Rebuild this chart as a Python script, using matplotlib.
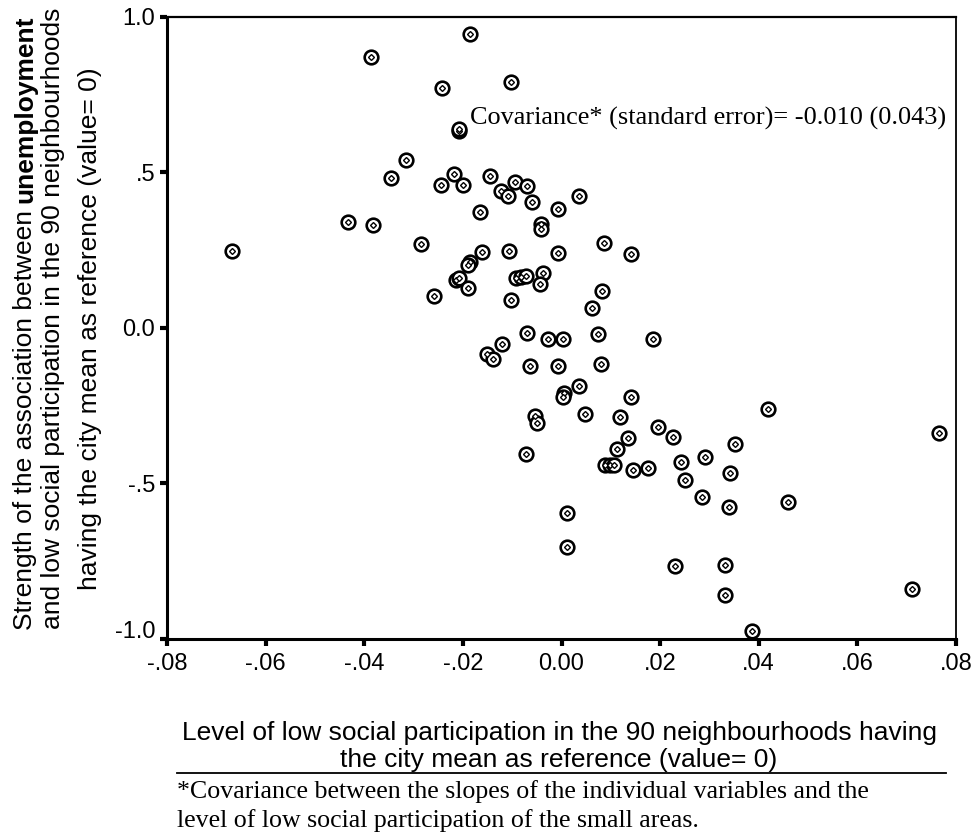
import matplotlib
matplotlib.use("Agg")
import matplotlib.pyplot as plt
import matplotlib.transforms as mtransforms

# ---- data ----
level = [-0.0668, -0.0386, -0.0185, -0.0242, -0.0102, -0.0207, -0.0207, -0.0315, -0.0345, -0.0244,
         -0.0217, -0.0199, -0.0146, -0.0122, -0.0108, -0.0095, -0.0069, -0.0059, -0.0166, -0.0041,
         -0.0041, -0.0432, -0.0382, -0.0284, -0.0162, -0.0185, -0.0189, -0.0213, -0.0207, -0.0189,
         -0.0106, -0.0093, -0.0083, -0.0073, -0.0037, -0.0043, -0.0258, -0.0102, -0.0008, -0.0008,
         0.0035, 0.0087, 0.0140, 0.0083, 0.0061, -0.0069, -0.0028, 0.0004, 0.0075, -0.0120,
         -0.0152, -0.0138, -0.0063, -0.0008, 0.0081, 0.0035, 0.0006, 0.0004, -0.0053, -0.0049,
         0.0047, 0.0140, 0.0118, 0.0134, 0.0112, -0.0071, 0.0089, 0.0099, 0.0106, 0.0144,
         0.0185, 0.0195, 0.0227, 0.0351, 0.0418, 0.0765, 0.0175, 0.0242, 0.0290, 0.0341,
         0.0250, 0.0284, 0.0339, 0.0459, 0.0012, 0.0012, 0.0231, 0.0331, 0.0331, 0.0711,
         0.0386]
strength = [0.248, 0.871, 0.945, 0.771, 0.790, 0.634, 0.640, 0.539, 0.481, 0.461,
            0.494, 0.461, 0.490, 0.439, 0.423, 0.468, 0.455, 0.406, 0.374, 0.335,
            0.319, 0.341, 0.330, 0.271, 0.245, 0.213, 0.203, 0.155, 0.162, 0.129,
            0.248, 0.161, 0.165, 0.168, 0.177, 0.142, 0.103, 0.090, 0.384, 0.242,
            0.423, 0.274, 0.239, 0.119, 0.064, -0.016, -0.035, -0.035, -0.019, -0.052,
            -0.084, -0.100, -0.122, -0.122, -0.116, -0.187, -0.210, -0.223, -0.284, -0.306,
            -0.277, -0.223, -0.287, -0.355, -0.390, -0.406, -0.442, -0.442, -0.442, -0.458,
            -0.035, -0.319, -0.352, -0.374, -0.261, -0.339, -0.449, -0.432, -0.416, -0.465,
            -0.490, -0.545, -0.574, -0.561, -0.594, -0.703, -0.765, -0.761, -0.858, -0.839,
            -0.974]

x_ticks = [-0.08, -0.06, -0.04, -0.02, 0.0, 0.02, 0.04, 0.06, 0.08]
x_tick_labels = ["-.08", "-.06", "-.04", "-.02", "0.00", ".02", ".04", ".06", ".08"]
y_ticks = [1.0, 0.5, 0.0, -0.5, -1.0]
y_tick_labels = ["1.0", ".5", "0.0", "-.5", "-1.0"]

annotation = "Covariance* (standard error)= -0.010 (0.043)"
xlabel_lines = ["Level of low social participation in the 90 neighbourhoods having",
                "the city mean as reference (value= 0)"]
ylabel_line1_a = "Strength of the association between"
ylabel_line1_b = "unemployment"
ylabel_line2 = "and low social participation in the 90 neighbourhoods"
ylabel_line3 = "having the city mean as reference (value= 0)"
footnote_lines = ["*Covariance between the slopes of the individual variables and the",
                  "level of low social participation of the small areas."]

SANS = "Liberation Sans"
SERIF = "Liberation Serif"

# ---- figure ----
W, H = 976, 838
fig = plt.figure(figsize=(W / 100, H / 100), dpi=100)
ax = fig.add_axes([167 / W, 1 - 639 / H, (956 - 167) / W, (639 - 17) / H])

ax.plot(level, strength, linestyle="none", marker="o", ms=9.8, mfc="white",
        mec="black", mew=1.9, zorder=3)
ax.plot(level, strength, linestyle="none", marker="D", ms=3.0, mfc="white",
        mec="black", mew=1.0, zorder=4)

ax.set_xlim(-0.08, 0.08)
ax.set_ylim(-1.0, 1.0)
ax.set_xticks(x_ticks)
ax.set_xticklabels(x_tick_labels, family=SANS, fontsize=17)
ax.set_yticks(y_ticks)
ax.set_yticklabels(y_tick_labels, family=SANS, fontsize=17)
ax.tick_params(direction="out", length=5, width=3, colors="black")
ax.tick_params(axis="x", pad=5)
ax.tick_params(axis="y", pad=3.5)
for side, lw in (("left", 2.2), ("bottom", 2.2), ("top", 1.6), ("right", 1.3)):
    ax.spines[side].set_linewidth(lw)

# the lowest y tick label sits a little above its tick in the reference
lowest = ax.get_yticklabels()[-1]
lowest.set_transform(lowest.get_transform() +
                     mtransforms.ScaledTranslation(0, 10 / 100, fig.dpi_scale_trans))

ax.text(-0.0186, 0.655, annotation, family=SERIF, fontsize=18.9,
        ha="left", va="baseline")

# x label (two centred lines) and the rule below it
fx = 559 / W
fig.text(fx, 1 - 740 / H, xlabel_lines[0], family=SANS, fontsize=19,
         ha="center", va="baseline")
fig.text(fx, 1 - 767 / H, xlabel_lines[1], family=SANS, fontsize=19,
         ha="center", va="baseline")
fig.add_artist(plt.Line2D([177 / W, 946 / W], [1 - 773 / H, 1 - 773 / H],
                          color="black", lw=1.3, transform=fig.transFigure))

for i, line in enumerate(footnote_lines):
    fig.text(177 / W, 1 - (798 + 29 * i) / H, line, family=SERIF,
             fontsize=18.6, ha="left", va="baseline")

# y label: three rotated lines, first line with a bold word
ysz = 19
fig.text(60 / W, 1 - 318 / H, ylabel_line2, family=SANS, fontsize=ysz, rotation=90,
         rotation_mode="anchor", ha="center", va="baseline")
fig.text(97 / W, 1 - 329 / H, ylabel_line3, family=SANS, fontsize=ysz, rotation=90,
         rotation_mode="anchor", ha="center", va="baseline")

renderer = fig.canvas.get_renderer()
ta = fig.text(32 / W, 0.5, ylabel_line1_a, family=SANS, fontsize=ysz, rotation=90,
              rotation_mode="anchor", ha="left", va="baseline")
tb = fig.text(32 / W, 0.5, ylabel_line1_b, family=SANS, fontsize=ysz, fontweight="bold",
              rotation=90, rotation_mode="anchor", ha="left", va="baseline")
la = ta.get_window_extent(renderer).height
lb = tb.get_window_extent(renderer).height
gap = 0.278 * ysz * 100 / 72
total = la + gap + lb
centre = H - 323
start = centre - total / 2
ta.set_y(start / H)
tb.set_y((start + la + gap) / H)

fig.savefig("out.png", dpi=100)
